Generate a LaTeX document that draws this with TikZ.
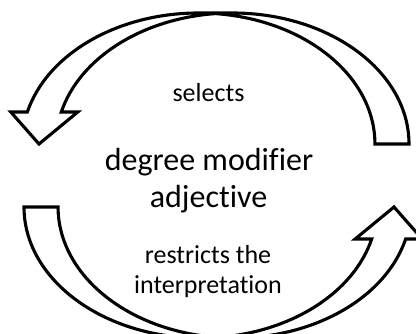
\documentclass[tikz,border=0pt]{standalone}
\usepackage{fontspec}
\setmainfont[Ligatures=NoCommon]{Carlito}
% One curved band arrow: two congruent half-ellipses offset by the shaft width,
% flat tail on the right, arrowhead pointing down on the left.
\newcommand{\curvedband}{%
  \path[band] (409,190)
    arc[start angle=0, end angle=90, x radius=176.5pt, y radius=131pt]
    -- (198.5,321)
    arc[start angle=90, end angle=165.86, x radius=176.5pt, y radius=131pt]
    -- (10.8,222) -- (39,190) -- (77.8,222) -- (61.3,222)
    arc[start angle=165.86, end angle=95.53, x radius=176.5pt, y radius=131pt]
    arc[start angle=84.47, end angle=0, x radius=176.5pt, y radius=131pt]
    -- cycle;}
\begin{document}
\begin{tikzpicture}[x=1pt,y=1pt,
  band/.style={draw=black, fill=white, line width=3.1pt, line join=miter},
  small/.style={font=\fontsize{26}{31.7}\selectfont, anchor=base, inner sep=0pt},
  big/.style={font=\fontsize{32}{38}\selectfont, anchor=base, inner sep=0pt}]
  \useasboundingbox (0,0) rectangle (416,334);
  \clip (0,0) rectangle (416,334);
  % upper arrow
  \curvedband
  % lower arrow: the same band turned half a circle
  \begin{scope}[rotate around={180:(216.5,158.5)}]
    \curvedband
  \end{scope}
  % labels
  \node[small] (selects) at (208.5,232.3) {selects};
  \node[big] (degree) at (209,163) {degree modifier};
  \node[big] (adjective) at (208.5,126) {adjective};
  \node[small] (restricts) at (208,70) {restricts the};
  \node[small] (interp) at (208,40) {interpretation};
\end{tikzpicture}
\end{document}
